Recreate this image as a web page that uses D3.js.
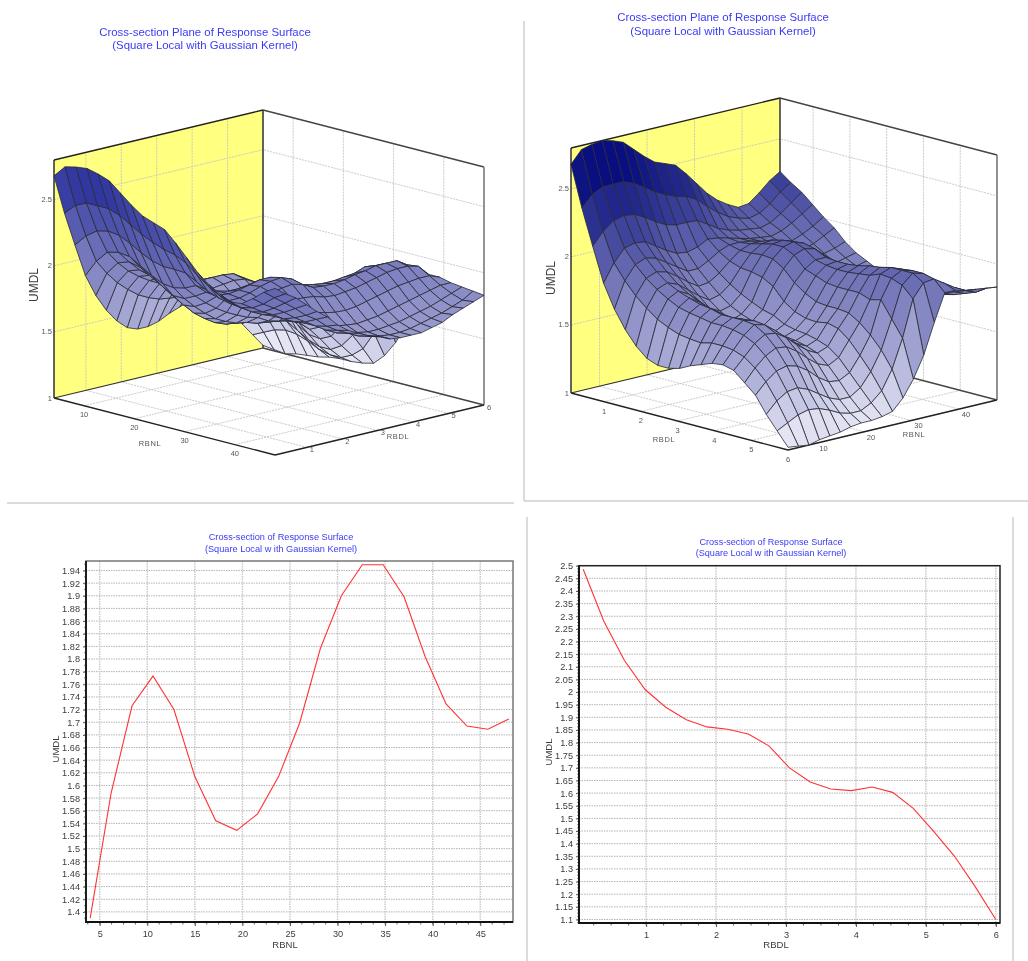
<!DOCTYPE html>
<html>
<head>
<meta charset="utf-8">
<script src="https://cdn.jsdelivr.net/npm/d3@7"></script>
<style>
  html, body { margin: 0; padding: 0; background: #fff; }
  svg { display: block; font-family: "Liberation Sans", Arial, sans-serif; filter: blur(0.4px); }
</style>
</head>
<body>
<div class="panel"></div>
<script>
const rbnlValues = [4, 6.2, 8.4, 10.6, 12.8, 15, 17.2, 19.4, 21.6, 23.8, 26, 28.2, 30.4, 32.6, 34.8, 37, 39.2, 41.4, 43.6, 45.8, 48]
const rbdlValues = [0.1, 0.395, 0.69, 0.985, 1.28, 1.575, 1.87, 2.165, 2.46, 2.755, 3.05, 3.345, 3.64, 3.935, 4.23, 4.525, 4.82, 5.115, 5.41, 5.705, 6]

// one row per RBDL value, one column per RBNL value
const umdlGrid = [
  [2.68, 2.77, 2.79, 2.80, 2.78, 2.75, 2.68, 2.61, 2.55, 2.52, 2.49, 2.41, 2.32, 2.23, 2.16, 2.11, 2.07, 2.08, 2.14, 2.21, 2.26],
  [2.38, 2.46, 2.50, 2.50, 2.50, 2.47, 2.42, 2.37, 2.33, 2.30, 2.28, 2.24, 2.17, 2.11, 2.06, 2.03, 2.01, 2.03, 2.08, 2.15, 2.20],
  [2.12, 2.21, 2.27, 2.29, 2.28, 2.24, 2.19, 2.15, 2.13, 2.13, 2.125, 2.08, 2.03, 2.00, 1.98, 1.97, 1.96, 1.98, 2.03, 2.09, 2.15],
  [1.87, 2.00, 2.09, 2.11, 2.10, 2.05, 2.00, 1.96, 1.95, 1.97, 2.01, 2.00, 1.98, 1.96, 1.94, 1.93, 1.92, 1.94, 1.98, 2.03, 2.08],
  [1.70, 1.89, 1.99, 2.02, 2.00, 1.95, 1.90, 1.85, 1.85, 1.89, 1.94, 1.97, 1.97, 1.96, 1.94, 1.91, 1.89, 1.89, 1.92, 1.96, 2.01],
  [1.57, 1.80, 1.91, 1.94, 1.92, 1.87, 1.81, 1.76, 1.77, 1.82, 1.89, 1.95, 1.98, 1.98, 1.95, 1.91, 1.87, 1.85, 1.87, 1.91, 1.95],
  [1.47, 1.73, 1.85, 1.88, 1.85, 1.79, 1.73, 1.68, 1.70, 1.76, 1.862, 1.95, 2.00, 2.01, 1.98, 1.92, 1.85, 1.82, 1.82, 1.84, 1.87],
  [1.40, 1.67, 1.80, 1.84, 1.80, 1.73, 1.66, 1.62, 1.64, 1.71, 1.853, 1.96, 2.02, 2.03, 2.00, 1.93, 1.85, 1.79, 1.77, 1.79, 1.81],
  [1.37, 1.63, 1.76, 1.81, 1.76, 1.68, 1.61, 1.57, 1.60, 1.67, 1.834, 1.95, 2.02, 2.04, 2.01, 1.93, 1.84, 1.76, 1.73, 1.75, 1.77],
  [1.37, 1.60, 1.74, 1.785, 1.735, 1.64, 1.57, 1.54, 1.57, 1.635, 1.787, 1.90, 1.98, 2.01, 1.99, 1.92, 1.82, 1.74, 1.71, 1.71, 1.73],
  [1.39, 1.588, 1.726, 1.773, 1.72, 1.614, 1.544, 1.529, 1.555, 1.614, 1.698, 1.817, 1.90, 1.949, 1.949, 1.898, 1.804, 1.729, 1.694, 1.689, 1.705],
  [1.43, 1.58, 1.71, 1.75, 1.71, 1.62, 1.55, 1.52, 1.53, 1.57, 1.644, 1.76, 1.87, 1.93, 1.94, 1.89, 1.80, 1.72, 1.68, 1.67, 1.67],
  [1.46, 1.60, 1.71, 1.75, 1.72, 1.64, 1.56, 1.52, 1.52, 1.55, 1.616, 1.72, 1.84, 1.92, 1.94, 1.90, 1.81, 1.73, 1.68, 1.66, 1.66],
  [1.49, 1.60, 1.70, 1.75, 1.73, 1.66, 1.58, 1.52, 1.51, 1.54, 1.61, 1.71, 1.83, 1.92, 1.95, 1.91, 1.83, 1.74, 1.69, 1.66, 1.66],
  [1.50, 1.59, 1.68, 1.74, 1.72, 1.66, 1.59, 1.53, 1.49, 1.52, 1.624, 1.71, 1.83, 1.93, 1.97, 1.93, 1.85, 1.76, 1.70, 1.67, 1.66],
  [1.48, 1.56, 1.64, 1.69, 1.68, 1.63, 1.56, 1.50, 1.46, 1.49, 1.603, 1.70, 1.83, 1.94, 1.98, 1.95, 1.87, 1.78, 1.72, 1.69, 1.68],
  [1.41, 1.50, 1.57, 1.61, 1.60, 1.55, 1.48, 1.42, 1.39, 1.43, 1.54, 1.65, 1.80, 1.97, 2.00, 1.97, 1.89, 1.80, 1.74, 1.71, 1.70],
  [1.34, 1.42, 1.48, 1.50, 1.48, 1.43, 1.36, 1.31, 1.30, 1.34, 1.448, 1.58, 1.82, 1.96, 2.00, 1.98, 1.90, 1.82, 1.76, 1.73, 1.74],
  [1.22, 1.30, 1.35, 1.36, 1.33, 1.28, 1.23, 1.20, 1.20, 1.25, 1.35, 1.49, 1.70, 1.93, 2.00, 1.98, 1.91, 1.84, 1.79, 1.76, 1.77],
  [1.12, 1.16, 1.20, 1.22, 1.21, 1.18, 1.14, 1.12, 1.12, 1.16, 1.23, 1.37, 1.58, 1.85, 1.95, 1.96, 1.91, 1.86, 1.82, 1.79, 1.80],
  [1.02, 1.01, 1.00, 1.02, 1.03, 1.04, 1.06, 1.07, 1.07, 1.08, 1.10, 1.18, 1.30, 1.46, 1.68, 1.88, 1.88, 1.86, 1.85, 1.84, 1.83]
]

const rbnlSection = [1.39, 1.588, 1.726, 1.773, 1.72, 1.614, 1.544, 1.529, 1.555, 1.614, 1.698, 1.817, 1.90, 1.949, 1.949, 1.898, 1.804, 1.729, 1.694, 1.689, 1.705]
const rbdlSection = [2.486, 2.28, 2.125, 2.01, 1.94, 1.89, 1.862, 1.853, 1.834, 1.787, 1.70, 1.644, 1.616, 1.61, 1.624, 1.603, 1.54, 1.448, 1.35, 1.23, 1.10]

const rbnlTicks3d = [10, 20, 30, 40]
const rbdlTicks3d = [1, 2, 3, 4, 5, 6]
const umdlTicks3d = [1, 1.5, 2, 2.5]
const rbnlTicks = [5, 10, 15, 20, 25, 30, 35, 40, 45]
const rbdlTicks = [1, 2, 3, 4, 5, 6]
const rbnlUmdlTicks = d3.range(0, 28).map(i => 1.4 + i * 0.02)
const rbdlUmdlTicks = d3.range(0, 29).map(i => 1.1 + i * 0.05)

const width = 1028
const height = 961
const theme = {
  title: '#3a3af5',
  wall: '#ffff80',
  text: '#3c3c3c',
  grid: '#c4c4c4',
  line: '#f33'
}

const svg = d3.select('.panel').append('svg').attr('width', width).attr('height', height)

const leftColor = d3.scaleLinear()
  .domain([1, 1.5, 2, 2.5, 2.8])
  .range(['#f4f4fb', '#a9abd6', '#7a7cbe', '#3f45a6', '#23299a'])

const rightColor = d3.scaleLinear()
  .domain([1, 1.5, 1.95, 2.3, 2.6, 2.8])
  .range(['#f0f0f9', '#a5a7d4', '#6a6cb3', '#2a3090', '#0a1080', '#00087c'])

function title(cx, y1, y2, size, first, second) {
  const g = svg.append('g').attr('fill', theme.title).attr('text-anchor', 'middle').style('font-size', size + 'px')
  g.append('text').attr('x', cx).attr('y', y1).text(first)
  g.append('text').attr('x', cx).attr('y', y2).text(second)
}

function rule(x1, y1, x2, y2) {
  svg.append('line').attr('x1', x1).attr('y1', y1).attr('x2', x2).attr('y2', y2)
    .attr('stroke', '#cfcfcf').attr('stroke-width', 1.5)
}

// a = left corner, f = front corner, r = right corner, all on the z = 1 floor
function surface3d(o) {
  const g = svg.append('g')
  const ua = d3.scaleLinear().domain(o.leftDomain).range([0, 1])
  const ub = d3.scaleLinear().domain(o.rightDomain).range([0, 1])
  const zs = d3.scaleLinear().domain([1, 2.8]).range([0, o.zPx])

  const project = (left, right, z) => {
    const s = ua(left)
    const t = ub(right)
    return [
      o.a[0] + s * (o.f[0] - o.a[0]) + t * (o.r[0] - o.f[0]),
      o.a[1] + s * (o.f[1] - o.a[1]) + t * (o.r[1] - o.f[1]) - zs(z)
    ]
  }
  const lineGen = d3.line()
  const leftLo = o.leftDomain[0]
  const leftHi = o.leftDomain[1]
  const rightLo = o.rightDomain[0]
  const rightHi = o.rightDomain[1]

  // walls and floor
  g.append('path').attr('d', lineGen([project(leftLo, rightLo, 1), project(leftLo, rightHi, 1), project(leftLo, rightHi, 2.8), project(leftLo, rightLo, 2.8)]) + 'Z')
    .attr('fill', theme.wall)

  const grid = g.append('g').attr('fill', 'none').attr('stroke', theme.grid).attr('stroke-width', 0.9).attr('stroke-dasharray', '2 1')
  o.leftTicks.forEach(v => {
    grid.append('path').attr('d', lineGen([project(v, rightLo, 1), project(v, rightHi, 1), project(v, rightHi, 2.8)]))
  })
  o.rightTicks.forEach(v => {
    grid.append('path').attr('d', lineGen([project(leftHi, v, 1), project(leftLo, v, 1), project(leftLo, v, 2.8)]))
  })
  umdlTicks3d.slice(1).forEach(v => {
    grid.append('path').attr('d', lineGen([project(leftLo, rightLo, v), project(leftLo, rightHi, v), project(leftHi, rightHi, v)]))
  })

  // frame
  const frame = [
    [[leftLo, rightLo, 2.8], [leftLo, rightHi, 2.8], '#222', 1.4],
    [[leftLo, rightHi, 2.8], [leftHi, rightHi, 2.8], '#444', 1.5],
    [[leftLo, rightLo, 1], [leftLo, rightLo, 2.8], '#222', 1.4],
    [[leftLo, rightHi, 1], [leftLo, rightHi, 2.8], '#333', 1.5],
    [[leftHi, rightHi, 1], [leftHi, rightHi, 2.8], '#888', 1.8],
    [[leftLo, rightLo, 1], [leftHi, rightLo, 1], '#222', 1.4],
    [[leftHi, rightLo, 1], [leftHi, rightHi, 1], '#222', 1.4],
    [[leftLo, rightLo, 1], [leftLo, rightHi, 1], '#333', 1.2],
    [[leftLo, rightHi, 1], [leftHi, rightHi, 1], '#444', 1.3]
  ]
  frame.forEach(d => {
    g.append('path').attr('d', lineGen([project(...d[0]), project(...d[1])]))
      .attr('stroke', d[2]).attr('stroke-width', d[3]).attr('fill', 'none')
  })

  // quads, far corner first
  const cells = []
  d3.range(20).forEach(i => {
    d3.range(20).forEach(j => {
      const corners = [[i, j], [i + 1, j], [i + 1, j + 1], [i, j + 1]]
      cells.push({
        depth: o.depth(i, j),
        mean: d3.mean(corners, c => umdlGrid[c[0]][c[1]]),
        points: corners.map(c => o.at(c[0], c[1], project))
      })
    })
  })
  g.append('g').selectAll('path')
    .data(d3.sort(cells, d => d.depth))
    .join('path')
    .attr('d', d => lineGen(d.points) + 'Z')
    .attr('fill', d => o.color(d.mean))
    .attr('stroke', '#2a2a36')
    .attr('stroke-width', 0.8)
    .attr('stroke-linejoin', 'round')

  // tick labels
  const label = g.append('g').attr('fill', '#555').style('font-size', '7.5px')
  umdlTicks3d.forEach(v => {
    const p = project(leftLo, rightLo, v)
    label.append('text').attr('x', p[0] - 2).attr('y', p[1] + 2.5).attr('text-anchor', 'end').text(v)
  })
  o.leftTicks.forEach(v => {
    const p = project(v, rightLo, 1)
    label.append('text').attr('x', p[0] + o.leftOffset[0]).attr('y', p[1] + o.leftOffset[1]).attr('text-anchor', 'middle').text(v)
  })
  o.rightTicks.forEach(v => {
    const p = project(leftHi, v, 1)
    label.append('text').attr('x', p[0] + o.rightOffset[0]).attr('y', p[1] + o.rightOffset[1]).attr('text-anchor', 'middle').text(v)
  })
  label.append('text').attr('x', o.leftLabel[0]).attr('y', o.leftLabel[1]).attr('text-anchor', 'middle').attr('letter-spacing', 0.6).text(o.leftName)
  label.append('text').attr('x', o.rightLabel[0]).attr('y', o.rightLabel[1]).attr('text-anchor', 'middle').attr('letter-spacing', 0.6).text(o.rightName)

  g.append('text').attr('transform', `translate(${o.zLabel[0]},${o.zLabel[1]}) rotate(-90)`)
    .attr('text-anchor', 'middle').attr('fill', theme.text).style('font-size', '12px').text('UMDL')
}

function lineChart(o) {
  const g = svg.append('g')
  const x = d3.scaleLinear().domain(o.xDomain).range([o.left, o.right])
  const y = d3.scaleLinear().domain(o.yDomain).range([o.bottom, o.top])

  const gridLayer = g.append('g').attr('fill', 'none')
  o.yTicks.forEach(v => {
    gridLayer.append('line').attr('x1', o.left).attr('x2', o.right).attr('y1', y(v)).attr('y2', y(v))
      .attr('stroke', '#b4b4b4').attr('stroke-width', 1).attr('stroke-dasharray', '1.5 1')
  })
  o.xTicks.forEach(v => {
    gridLayer.append('line').attr('x1', x(v)).attr('x2', x(v)).attr('y1', o.top).attr('y2', o.bottom)
      .attr('stroke', '#cacaca').attr('stroke-width', 1.5).attr('stroke-dasharray', '1.5 1')
  })

  g.append('path')
    .datum(o.xs.map((d, i) => [d, o.ys[i]]))
    .attr('fill', 'none')
    .attr('stroke', theme.line)
    .attr('stroke-width', 1.1)
    .attr('d', d3.line().x(d => x(d[0])).y(d => y(d[1])))

  const xAxis = d3.axisBottom(x).tickValues(o.xTicks).tickSize(4).tickFormat(d => d)
  const yAxis = d3.axisLeft(y).tickValues(o.yTicks).tickSize(3).tickFormat(d => +d.toFixed(2))
  const ax = g.append('g').attr('transform', `translate(0,${o.bottom})`).call(xAxis)
  const ay = g.append('g').attr('transform', `translate(${o.left},0)`).call(yAxis)
  ;[ax, ay].forEach(a => {
    a.select('.domain').remove()
    a.selectAll('line').attr('stroke', '#555')
    a.selectAll('text').attr('fill', theme.text).style('font-size', '9.2px').style('font-family', '"Liberation Sans", Arial, sans-serif')
  })
  ax.selectAll('text').attr('dy', '0.9em')

  // minor ticks along the axes
  const minorX = d3.range(Math.ceil(o.xDomain[0] / o.xMinor), Math.floor(o.xDomain[1] / o.xMinor) + 1).map(k => k * o.xMinor)
  g.append('g').selectAll('line').data(minorX).join('line')
    .attr('x1', d => x(d)).attr('x2', d => x(d)).attr('y1', o.bottom).attr('y2', o.bottom + 2.5)
    .attr('stroke', '#666')
  const minorY = d3.range(Math.ceil(o.yDomain[0] / o.yMinor), Math.floor(o.yDomain[1] / o.yMinor) + 1).map(k => k * o.yMinor)
  g.append('g').selectAll('line').data(minorY).join('line')
    .attr('x1', o.left - 2).attr('x2', o.left).attr('y1', d => y(d)).attr('y2', d => y(d))
    .attr('stroke', '#888')

  g.append('rect').attr('x', o.left).attr('y', o.top).attr('width', o.right - o.left).attr('height', o.bottom - o.top)
    .attr('fill', 'none').attr('stroke', o.frameColor).attr('stroke-width', 1.5)
  g.append('path').attr('d', `M${o.left},${o.top}V${o.bottom}H${o.right}`)
    .attr('fill', 'none').attr('stroke', '#111').attr('stroke-width', 1.8)

  g.append('text').attr('x', o.xLabel[0]).attr('y', o.xLabel[1]).attr('text-anchor', 'middle')
    .attr('fill', theme.text).style('font-size', '9.5px').text(o.xName)
  g.append('text').attr('transform', `translate(${o.yLabel[0]},${o.yLabel[1]}) rotate(-90)`)
    .attr('text-anchor', 'middle').attr('fill', theme.text).style('font-size', '9.5px').text('UMDL')
}

// panel separators
rule(7, 503, 514, 503)
rule(524, 21, 524, 501)
rule(524, 501, 1028, 501)
rule(527, 517, 527, 961)
rule(1013, 517, 1013, 961)

title(205, 36, 49, 11.4, 'Cross-section Plane of Response Surface', '(Square Local with Gaussian Kernel)')
title(723, 21, 35, 11.4, 'Cross-section Plane of Response Surface', '(Square Local with Gaussian Kernel)')
title(281, 540, 552, 9.2, 'Cross-section of Response Surface', '(Square Local w ith Gaussian Kernel)')
title(771, 545, 556, 9.1, 'Cross-section of Response Surface', '(Square Local w ith Gaussian Kernel)')

surface3d({
  a: [54, 398], f: [275, 455], r: [484, 405], zPx: 238,
  leftDomain: [4, 48], rightDomain: [0.1, 6],
  leftTicks: rbnlTicks3d, rightTicks: rbdlTicks3d,
  leftName: 'RBNL', rightName: 'RBDL', color: leftColor,
  leftOffset: [0, 11], rightOffset: [5, 5],
  leftLabel: [150, 446], rightLabel: [398, 439], zLabel: [38, 285],
  at: (i, j, project) => project(rbnlValues[j], rbdlValues[i], umdlGrid[i][j]),
  depth: (i, j) => j - i
})

surface3d({
  a: [571, 393], f: [788, 450], r: [997, 400], zPx: 245,
  leftDomain: [0.1, 6], rightDomain: [4, 48],
  leftTicks: rbdlTicks3d, rightTicks: rbnlTicks3d,
  leftName: 'RBDL', rightName: 'RBNL', color: rightColor,
  leftOffset: [0, 12], rightOffset: [7, 8],
  leftLabel: [664, 442], rightLabel: [914, 437], zLabel: [555, 278],
  at: (i, j, project) => project(rbdlValues[i], rbnlValues[j], umdlGrid[i][j]),
  depth: (i, j) => i - j
})

lineChart({
  left: 86, right: 513, top: 561, bottom: 922,
  xDomain: [3.56, 48.44], yDomain: [1.384, 1.955],
  xs: rbnlValues, ys: rbnlSection, xTicks: rbnlTicks, yTicks: rbnlUmdlTicks, xMinor: 1.25, yMinor: 0.01,
  frameColor: '#777', xName: 'RBNL', xLabel: [285, 948], yLabel: [59, 749]
})

lineChart({
  left: 579, right: 1000, top: 565.7, bottom: 923,
  xDomain: [0.04, 6.06], yDomain: [1.086, 2.5],
  xs: rbdlValues, ys: rbdlSection, xTicks: rbdlTicks, yTicks: rbdlUmdlTicks, xMinor: 0.25, yMinor: 0.0125,
  frameColor: '#222', xName: 'RBDL', xLabel: [776, 948], yLabel: [552, 752]
})
</script>
</body>
</html>
